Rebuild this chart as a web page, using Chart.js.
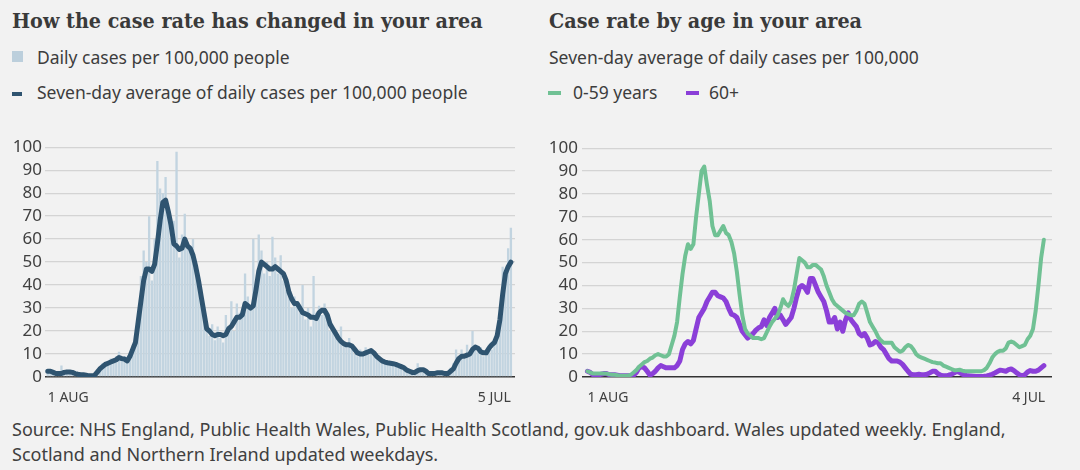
<!DOCTYPE html>
<html>
<head>
<meta charset="utf-8">
<script src="https://cdn.jsdelivr.net/npm/chart.js@4.4.0/dist/chart.umd.min.js"></script>
<style>
  html, body { margin: 0; padding: 0; background: #f2f2f2; }
  body { width: 1080px; height: 470px; position: relative; overflow: hidden;
         font-family: "Noto Sans", sans-serif; color: #3d3d3d; }
  .title { position: absolute; top: 8px; font-family: "DejaVu Serif Condensed", "DejaVu Serif", serif;
           font-weight: bold; font-size: 21.3px; color: #3a3a3a; white-space: nowrap; }
  .txt { position: absolute; font-size: 17.5px; white-space: nowrap; line-height: 22px; }
  .sw { position: absolute; }
  .box { position: absolute; }
  .source { position: absolute; left: 12px; top: 417px; font-size: 18px; line-height: 25px; color: #404040; white-space: nowrap; }
</style>
</head>
<body>
  <div class="title" style="left:12px">How the case rate has changed in your area</div>
  <div class="sw" style="left:12px; top:51px; width:11px; height:11px; background:#bccfdc"></div>
  <div class="txt" style="left:37px; top:46px">Daily cases per 100,000 people</div>
  <div class="sw" style="left:12px; top:92px; width:10px; height:4px; background:#2f5470"></div>
  <div class="txt" style="left:37px; top:81px">Seven-day average of daily cases per 100,000 people</div>

  <div class="title" style="left:549px">Case rate by age in your area</div>
  <div class="txt" style="left:549px; top:46px">Seven-day average of daily cases per 100,000</div>
  <div class="sw" style="left:548px; top:91px; width:13px; height:4px; background:#70c194"></div>
  <div class="txt" style="left:573px; top:81px">0-59 years</div>
  <div class="sw" style="left:686px; top:91px; width:13px; height:4px; background:#8b3fd8"></div>
  <div class="txt" style="left:709px; top:81px">60+</div>

  <div class="box" style="left:0; top:134px; width:525px; height:271px"><canvas id="leftChart"></canvas></div>
  <div class="box" style="left:540px; top:134px; width:522px; height:271px"><canvas id="rightChart"></canvas></div>

  <div class="source">Source: NHS England, Public Health Wales, Public Health Scotland, gov.uk dashboard. Wales updated weekly. England,<br>Scotland and Northern Ireland updated weekdays.</div>

<script>
(function () {
    'use strict';

    // one value every 2 days, starting 1 Aug 2020
    var stepDays = 2;
    var startDate = Date.UTC(2020, 7, 1);
    var months = ['JAN', 'FEB', 'MAR', 'APR', 'MAY', 'JUN', 'JUL', 'AUG', 'SEP', 'OCT', 'NOV', 'DEC'];
    var leftLastDay = 338;   // 5 Jul 2021
    var rightLastDay = 337;  // 4 Jul 2021

    var dailyCases = [
        3, 2.5, 2, 1, 2, 5, 2, 3, 2.5, 1.5, 2, 1, 1.5, 1, 0.5, 0.5, 1, 1.5,
        3, 4, 6, 5, 7, 8, 6, 9, 11, 7, 9, 8, 10, 14,
        18, 28, 44, 55, 50, 70, 42, 60,
        94, 82, 80, 87, 70, 60, 68, 98, 52, 62, 71, 58, 55, 60, 50, 45, 38, 30, 22, 18,
        23, 16, 22, 17, 15, 27, 22, 33, 20, 32, 28, 30, 45, 35, 30, 60, 40, 62, 55, 45,
        50, 44, 61, 52, 45, 53, 42, 38, 40, 30, 35, 33, 28, 40, 25, 30, 22, 44, 28, 31,
        27, 32, 25, 20, 22, 18, 16, 22, 15, 14, 17, 12, 10, 9, 12, 10, 13, 12, 11, 9,
        8, 7, 8, 6, 7, 5, 6, 5, 6, 4, 4, 3, 2, 3, 2, 6, 3, 2, 2, 1,
        2, 1.5, 2, 2, 1.5, 2, 1, 4, 6, 12, 9, 12, 8, 14, 10, 20, 14, 11, 13, 9,
        12, 14, 12, 16, 17, 25, 48, 45, 56, 65
    ];

    var sevenDayAvg = [
        2.5, 2.5, 2, 1.5, 1.5, 1.5, 2, 2.2, 2.2, 2, 1.5, 1.2, 1, 1, 0.8, 0.5, 0.5, 0.6,
        2, 3.5, 4.5, 5.5, 6, 6.5, 7, 7.5, 8.5, 8, 7.8, 7, 9, 12,
        15, 24, 33, 42, 47, 47, 46, 49,
        58, 68, 76, 77, 72, 66, 58, 57, 55.5, 56, 60, 57, 56, 53, 48, 42, 35, 28, 21, 20,
        18.5, 18, 18.5, 18.5, 18, 18.5, 21, 22, 24, 26, 26, 27, 32, 31, 30, 31, 38, 46, 50, 49,
        48, 47, 47, 48, 47, 46, 45, 42, 37, 34, 32, 32, 30, 28, 27.5, 27, 26, 26, 25.5, 28,
        29, 29, 27, 23, 21, 19, 17, 15.5, 14.5, 14, 14, 13.5, 12, 10.5, 10, 10, 10.5, 11, 11.5, 10.5,
        9, 8, 7, 6.5, 6.2, 6, 5.8, 5.5, 5, 4.5, 4, 3, 2.5, 2, 2, 2.8, 3.2, 3.2, 2.5, 1.5,
        1.5, 1.5, 1.8, 1.8, 1.8, 1.5, 1.5, 2.5, 3.5, 6, 8, 9, 9, 9.5, 10, 12, 13, 12.5, 11, 10.5,
        10.5, 12.5, 14, 15, 18, 25, 36, 45, 48, 50
    ];

    var under60 = [
        2.5, 2, 1.5, 1.5, 1.5, 1.5, 1.5, 1.5, 1.2, 1, 1, 0.8, 0.6, 0.5, 0.5, 0.6, 1, 2,
        3, 4.5, 5.5, 6.5, 7, 8, 8.5, 9.5, 10, 9.5, 9, 9, 10, 14,
        18, 24, 35, 45, 53, 58, 56, 58,
        70, 80, 90, 92, 84, 77, 66, 62, 62, 64, 66, 63, 62, 59, 54, 46, 36, 27, 21, 19,
        18, 17, 17, 17, 16.5, 17, 19.5, 22, 24, 25.5, 27, 30, 34, 32, 31, 33, 38, 45, 52, 51,
        50, 48, 48, 49, 49, 48, 47, 44, 40, 37, 34, 32, 31, 30, 29, 28, 27.5, 27, 27, 29,
        32, 33, 32, 28, 24, 22, 20, 17.5, 16, 15, 15, 15, 15, 13, 12, 11, 11.5, 13, 14, 13.5,
        12, 10, 9, 8.5, 8, 7.5, 7, 6.5, 6.3, 6, 6, 5, 4.5, 4, 3.5, 3, 3, 3.2, 2.8, 2.5,
        2.5, 2.5, 2.5, 2.5, 2.5, 2.5, 3, 4, 6, 8.5, 10, 11, 11.5, 11.5, 12.5, 15, 15.5, 15, 14, 13,
        13.5, 14, 16.5, 18, 21, 29, 40, 52, 60
    ];

    var over60 = [
        2.5, 2, 1, 0.5, 0.8, 1.2, 1.5, 1.5, 1, 1, 1, 0.8, 0.6, 0.5, 0.5, 0.5, 0.5, 0.8,
        2, 4, 4.5, 4, 2.5, 0.8, 1.5, 2.5, 4, 5, 4.5, 4, 4, 4,
        4, 5, 7, 12, 14.5, 15.5, 14.5, 16,
        21, 26, 28, 30, 33, 35, 37, 37, 35.5, 35, 34.5, 33, 30, 27.5, 27, 26, 23, 20, 18.5, 17,
        18, 19, 20.5, 21.5, 22, 25, 22.5, 26, 28, 30, 26, 27, 25, 23, 24.5, 26, 30, 35, 39, 40,
        39, 37, 43, 43, 40, 37, 35, 33, 29, 24, 24, 26, 21, 24, 20, 25, 28, 25, 23.5, 22,
        19, 18, 19, 17, 14, 14.5, 15.5, 15, 13, 12, 10, 8, 7, 7, 7, 6.5, 5.5, 4, 2.5, 1.2,
        1, 1, 1.2, 1, 1, 1.2, 1.8, 2.5, 2.5, 1.5, 0.8, 0.5, 0.5, 0.8, 1.2, 1.8, 2.5, 2, 1.2, 0.8,
        0.5, 0.4, 0.3, 0.2, 0.2, 0.2, 0.3, 0.5, 0.8, 1.2, 1.8, 2.5, 3, 2.8, 2.5, 3.2, 3.5, 2.8, 1.8, 1,
        0.5, 1, 2.2, 2.8, 2.5, 2.5, 3, 4, 5
    ];

    var yTicks = [0, 10, 20, 30, 40, 50, 60, 70, 80, 90, 100];

    function toPoints(values) {
        return values.map(function (v, i) { return { x: i * stepDays, y: v }; });
    }

    function fmtDay(day) {
        var d = new Date(startDate + day * 86400000);
        return d.getUTCDate() + ' ' + months[d.getUTCMonth()];
    }

    function buildScales(yWidth, yPad, xMin, xMax, lastDay) {
        return {
            x: {
                type: 'linear', min: xMin, max: xMax, offset: false,
                grid: { display: false, offset: false },
                border: { display: false },
                afterBuildTicks: function (s) { s.ticks = [{ value: 0 }, { value: lastDay }]; },
                afterFit: function (s) { s.height = 28; },
                ticks: {
                    autoSkip: false, maxRotation: 0, align: 'inner', padding: 5,
                    color: '#404040', font: { family: 'Noto Sans', size: 14 },
                    callback: function (v) { return fmtDay(v); }
                }
            },
            y: {
                min: 0, max: 100,
                border: { display: false },
                afterBuildTicks: function (s) { s.ticks = yTicks.map(function (v) { return { value: v }; }); },
                afterFit: function (s) { s.width = yWidth; },
                grid: {
                    drawTicks: false,
                    color: function (c) { return c.tick && c.tick.value === 0 ? '#333333' : '#d4d4d4'; },
                    lineWidth: function (c) { return c.tick && c.tick.value === 0 ? 1.5 : 1.3; }
                },
                ticks: { autoSkip: false, padding: yPad, color: '#404040', font: { family: 'Noto Sans', size: 17 } }
            }
        };
    }

    var common = {
        responsive: true, maintainAspectRatio: false, animation: false,
        layout: { padding: { top: 10, right: 10, left: 0, bottom: 0 } },
        plugins: { legend: { display: false }, tooltip: { enabled: false } }
    };

    new Chart(document.getElementById('leftChart'), {
        type: 'bar',
        data: {
            datasets: [
                {
                    type: 'line', data: toPoints(sevenDayAvg), order: 0,
                    borderColor: '#2f5470', borderWidth: 5, pointRadius: 0, tension: 0,
                    borderJoinStyle: 'round', borderCapStyle: 'round'
                },
                {
                    type: 'bar', data: toPoints(dailyCases), order: 1,
                    backgroundColor: '#c2d4e0', barPercentage: 0.85, categoryPercentage: 1
                }
            ]
        },
        options: Object.assign({}, common, { scales: buildScales(45, 3, -2, 341, leftLastDay) })
    });

    new Chart(document.getElementById('rightChart'), {
        type: 'line',
        data: {
            datasets: [
                {
                    data: toPoints(under60), borderColor: '#70c194', borderWidth: 4,
                    pointRadius: 0, tension: 0, borderJoinStyle: 'round', borderCapStyle: 'round'
                },
                {
                    data: toPoints(over60), borderColor: '#8b3fd8', borderWidth: 5,
                    pointRadius: 0, tension: 0, borderJoinStyle: 'round', borderCapStyle: 'round'
                }
            ]
        },
        options: Object.assign({}, common, { scales: buildScales(42, 4, -4, 342, rightLastDay) })
    });
})();
</script>
</body>
</html>
